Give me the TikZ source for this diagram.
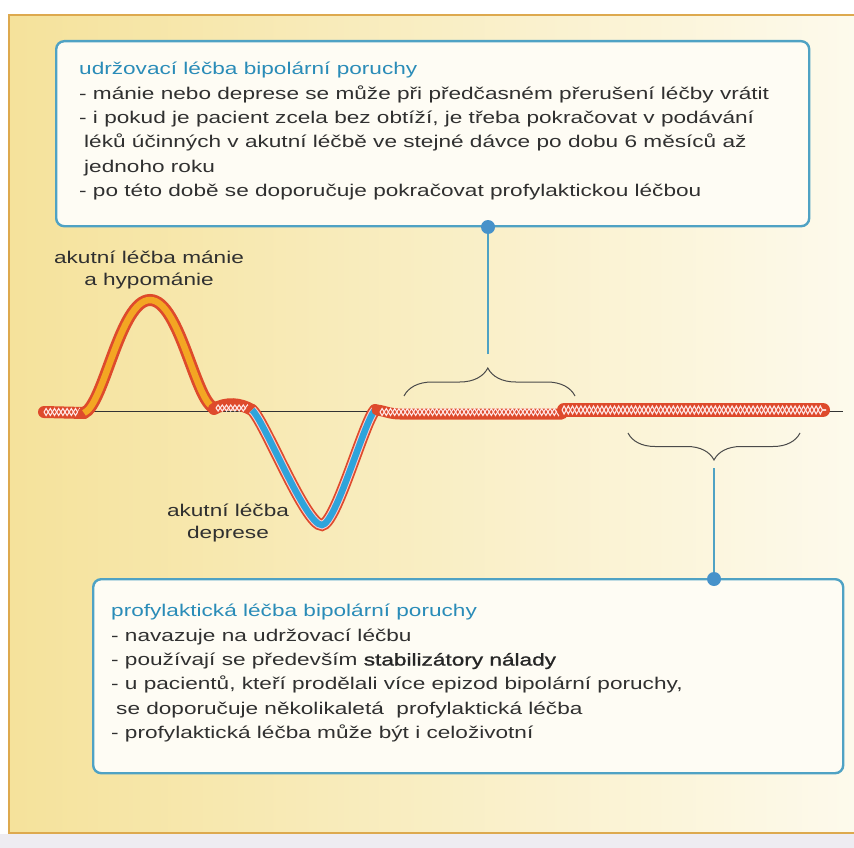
\documentclass[tikz,border=0pt]{standalone}
\usepackage{fontspec}
\setmainfont{Liberation Sans}[FakeStretch=1.33]
\newfontfamily\medfont{Liberation Sans}[FakeStretch=1.33, FakeBold=1.2]
\usetikzlibrary{decorations.pathreplacing,decorations.pathmorphing,calc}
\definecolor{bgL}{HTML}{F5E29B}
\definecolor{bgR}{HTML}{FDFAEC}
\definecolor{framecol}{HTML}{DDA94E}
\definecolor{boxblue}{HTML}{4FA2C4}
\definecolor{boxfill}{HTML}{FEFCF4}
\definecolor{titleblue}{HTML}{2A8CB8}
\definecolor{txt}{HTML}{303030}
\definecolor{redb}{HTML}{DE4A2C}
\definecolor{orangeb}{HTML}{F3A623}
\definecolor{blueb}{HTML}{2EA4DB}
\definecolor{stripe}{HTML}{EEECF1}
\definecolor{bracecol}{HTML}{4A4A4A}
\tikzset{
  infobox/.style={draw=boxblue, line width=2.4pt, fill=boxfill, rounded corners=8pt, inner sep=0pt},
  bodytext/.style={anchor=north west, align=left, inner sep=0pt, text=txt,
    font=\fontsize{17}{24.4}\selectfont},
  lbl/.style={inner sep=0pt, text=txt, align=center, font=\fontsize{17}{21.5}\selectfont},
  dotnode/.style={circle, fill=boxblue!90!blue, inner sep=0pt, minimum size=14pt},
  conn/.style={draw=boxblue, line width=1.6pt},
  bracestyle/.style={draw=bracecol, line width=1pt, decorate},
  redband/.style={draw=redb, line width=#1, line cap=round},
  hatch/.style={draw=white!90!red, line width=1.1pt, decorate,
    decoration={zigzag, segment length=8.4pt, amplitude=#1}},
}
\newcommand{\contind}{\hspace*{5pt}}
\begin{document}
\begin{tikzpicture}[x=1pt,y=-1pt]
\useasboundingbox (0,0) rectangle (854,848);
\fill[white] (0,0) rectangle (854,848);
\fill[stripe] (0,834) rectangle (854,848);
\shade[left color=bgL, right color=bgR] (9,15) rectangle (854,833);
\draw[framecol, line width=1.3pt] (854,15) -- (9,15) -- (9,833) -- (854,833);

% ---------- top box ----------
\node[infobox, anchor=north west, minimum width=753pt, minimum height=185pt] (topbox) at (55,40) {};
\node[bodytext] (toptext) at (79,62) {%
\textcolor{titleblue}{udržovací léčba bipolární poruchy}\\
- mánie nebo deprese se může při předčasném přerušení léčby vrátit\\
- i pokud je pacient zcela bez obtíží, je třeba pokračovat v podávání\\
\contind léků účinných v akutní léčbě ve stejné dávce po dobu 6 měsíců až\\
\contind jednoho roku\\
- po této době se doporučuje pokračovat profylaktickou léčbou};

% ---------- bottom box ----------
\node[infobox, anchor=north west, minimum width=750pt, minimum height=194pt] (botbox) at (92,578) {};
\node[bodytext] (bottext) at (111,604) {%
\textcolor{titleblue}{profylaktická léčba bipolární poruchy}\\
- navazuje na udržovací léčbu\\
- používají se především {\medfont\color{black!85}stabilizátory nálady}\\
- u pacientů, kteří prodělali více epizod bipolární poruchy,\\
\contind se doporučuje několikaletá\ \ profylaktická léčba\\
- profylaktická léčba může být i celoživotní};

% ---------- baseline ----------
\coordinate (axL) at (84,411);
\coordinate (axR) at (843,411);
\draw[black!80, line width=0.8pt] (axL) -- (axR);

% ---------- curve ----------
% first hatched piece
\draw[redband=12pt] (44,412) -- (84,413);
\draw[hatch=3.5pt] (44,412) -- (84,412);
\draw[hatch=-3.5pt] (44,412) -- (84,412);
% mania (orange)
\draw[redband=12pt] (84,413) .. controls (104,405) and (120,300) .. (150,300) .. controls (180,300) and (196,405) .. (215,408);
\draw[orangeb, line width=6.5pt] (84,413) .. controls (104,405) and (120,300) .. (150,300) .. controls (180,300) and (196,405) .. (215,408);
% wiggle hatched
\draw[redband=12pt] (214,409) .. controls (226,402) and (240,403) .. (252,410);
\draw[hatch=3pt] (216,408) -- (250,408);
\draw[hatch=-3pt] (216,408) -- (250,408);
% depression (blue)
\draw[redband=12pt] (252,410) .. controls (264,420) and (306,526) .. (322,525) .. controls (336,524) and (364,422) .. (375,410);
\draw[white!80!red, line width=8.5pt] (252,410) .. controls (264,420) and (306,526) .. (322,525) .. controls (336,524) and (364,422) .. (375,410);
\draw[blueb, line width=6.5pt] (252,410) .. controls (264,420) and (306,526) .. (322,525) .. controls (336,524) and (364,422) .. (375,410);
% maintenance hatched
\draw[redband=11pt] (377,410) .. controls (385,411) and (390,414) .. (400,414) -- (562,414);
\draw[hatch=3.5pt] (380,412) -- (562,412);
\draw[hatch=-3.5pt] (380,412) -- (562,412);
% prophylaxis hatched (thicker)
\draw[redband=14pt] (564,410) -- (823,410);
\draw[hatch=4pt] (562,410) -- (826,410);
\draw[hatch=-4pt] (562,410) -- (826,410);

% ---------- labels ----------
\node[lbl, anchor=base] (maniaLbl) at (149,285) {akutní léčba mánie\\a hypománie};
\node[lbl, anchor=base] (deprLbl) at (228,538) {akutní léčba\\deprese};

% ---------- braces and connectors ----------
\coordinate (b1L) at (404,396);
\coordinate (b1R) at (575,396);
\draw[bracestyle, decoration={brace, amplitude=28pt, aspect=0.49}] (b1L) -- (b1R);
\coordinate (b1tip) at (488,354);
\node[dotnode] (dot1) at (488,227) {};
\draw[conn] (b1tip) -- (dot1);

\coordinate (b2L) at (628,433);
\coordinate (b2R) at (800,433);
\draw[bracestyle, decoration={brace, amplitude=27pt, aspect=0.5}] (b2R) -- (b2L);
\coordinate (b2tip) at (714,468);
\node[dotnode] (dot2) at (714,579) {};
\draw[conn] (b2tip) -- (dot2);
\end{tikzpicture}
\end{document}
